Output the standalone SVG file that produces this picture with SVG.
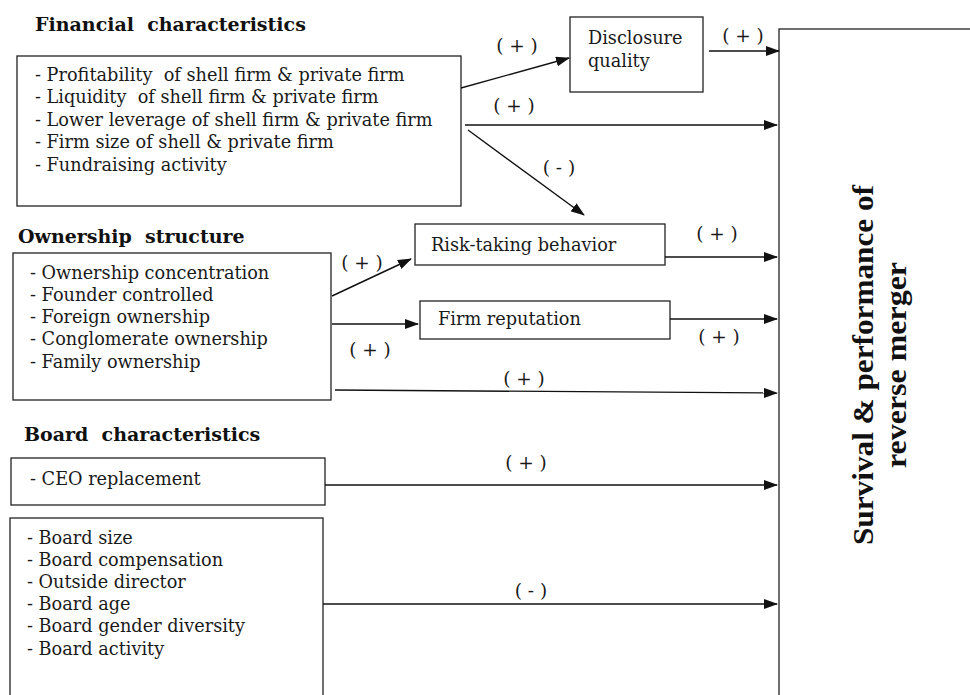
<svg xmlns="http://www.w3.org/2000/svg" width="970" height="695" viewBox="0 0 970 695">
<style>
text{white-space:pre}
.box{fill:#fff;stroke:#222;stroke-width:1.3}
.t{font-family:"DejaVu Serif",serif;font-size:17.7px;fill:#1a1a1a}
.h{font-family:"DejaVu Serif",serif;font-size:19px;font-weight:bold;fill:#111}
.lbl{font-family:"DejaVu Serif",serif;font-size:18.5px;fill:#1a1a1a;text-anchor:middle}
.c{stroke:#111;stroke-width:1.4;fill:none;marker-end:url(#ah)}
.big{font-family:"Liberation Serif",serif;font-size:29px;font-weight:bold;fill:#111;text-anchor:middle}
</style>
<defs>
<marker id="ah" markerWidth="14" markerHeight="10" refX="13" refY="5" orient="auto" markerUnits="userSpaceOnUse">
<path d="M0,0 L14,5 L0,10 Z" fill="#111"/>
</marker>
</defs>
<rect width="970" height="695" fill="#fff"/>

<g id="financial">
<text class="h" x="35" y="31">Financial  characteristics</text>
<rect class="box" x="17" y="56" width="444" height="150"/>
<text class="t" x="35" y="81">- Profitability  of shell firm &amp; private firm</text>
<text class="t" x="35" y="103">- Liquidity  of shell firm &amp; private firm</text>
<text class="t" x="35" y="126">- Lower leverage of shell firm &amp; private firm</text>
<text class="t" x="35" y="148">- Firm size of shell &amp; private firm</text>
<text class="t" x="35" y="171">- Fundraising activity</text>
</g>

<g id="disclosure">
<rect class="box" x="570" y="17" width="133" height="75"/>
<text class="t" x="588" y="44">Disclosure</text>
<text class="t" x="588" y="67">quality</text>
</g>

<g id="outcome">
<rect class="box" x="779" y="29" width="200" height="680"/>
<text class="big" transform="translate(873,365) rotate(-90)" textLength="360" lengthAdjust="spacingAndGlyphs">Survival &amp; performance of</text>
<text class="big" transform="translate(906,365) rotate(-90)" textLength="206" lengthAdjust="spacingAndGlyphs">reverse merger</text>
</g>

<g id="risk">
<rect class="box" x="415" y="224" width="250" height="41"/>
<text class="t" x="431" y="251">Risk-taking behavior</text>
</g>

<g id="reputation">
<rect class="box" x="420" y="301" width="250" height="38"/>
<text class="t" x="438" y="325">Firm reputation</text>
</g>

<g id="ownership">
<text class="h" x="18" y="243">Ownership  structure</text>
<rect class="box" x="13" y="253" width="318" height="147"/>
<text class="t" x="30" y="279">- Ownership concentration</text>
<text class="t" x="30" y="301">- Founder controlled</text>
<text class="t" x="30" y="323">- Foreign ownership</text>
<text class="t" x="30" y="345">- Conglomerate ownership</text>
<text class="t" x="30" y="368">- Family ownership</text>
</g>

<g id="board-heading">
<text class="h" x="24" y="441">Board  characteristics</text>
</g>

<g id="ceo">
<rect class="box" x="11" y="458" width="314" height="47"/>
<text class="t" x="30" y="485">- CEO replacement</text>
</g>

<g id="board">
<rect class="box" x="10" y="518" width="313" height="190"/>
<text class="t" x="27" y="544">- Board size</text>
<text class="t" x="27" y="566">- Board compensation</text>
<text class="t" x="27" y="588">- Outside director</text>
<text class="t" x="27" y="610">- Board age</text>
<text class="t" x="27" y="632">- Board gender diversity</text>
<text class="t" x="27" y="655">- Board activity</text>
</g>

<g id="connectors">
<line class="c" x1="461" y1="88" x2="569" y2="58"/>
<line class="c" x1="709" y1="51" x2="779" y2="51"/>
<line class="c" x1="465" y1="125" x2="777" y2="125"/>
<line class="c" x1="468" y1="130" x2="584" y2="215"/>
<line class="c" x1="665" y1="257" x2="777" y2="257"/>
<line class="c" x1="670" y1="319" x2="777" y2="319"/>
<line class="c" x1="332" y1="296" x2="411" y2="259"/>
<line class="c" x1="332" y1="324" x2="418" y2="324"/>
<line class="c" x1="335" y1="390" x2="777" y2="393"/>
<line class="c" x1="325" y1="485" x2="777" y2="485"/>
<line class="c" x1="323" y1="604" x2="777" y2="604"/>
<text class="lbl" x="517" y="52">( + )</text>
<text class="lbl" x="743" y="42">( + )</text>
<text class="lbl" x="514" y="112">( + )</text>
<text class="lbl" x="559" y="174">( - )</text>
<text class="lbl" x="717" y="240">( + )</text>
<text class="lbl" x="719" y="343">( + )</text>
<text class="lbl" x="362" y="269">( + )</text>
<text class="lbl" x="370" y="356">( + )</text>
<text class="lbl" x="524" y="385">( + )</text>
<text class="lbl" x="526" y="469">( + )</text>
<text class="lbl" x="531" y="597">( - )</text>
</g>
</svg>
